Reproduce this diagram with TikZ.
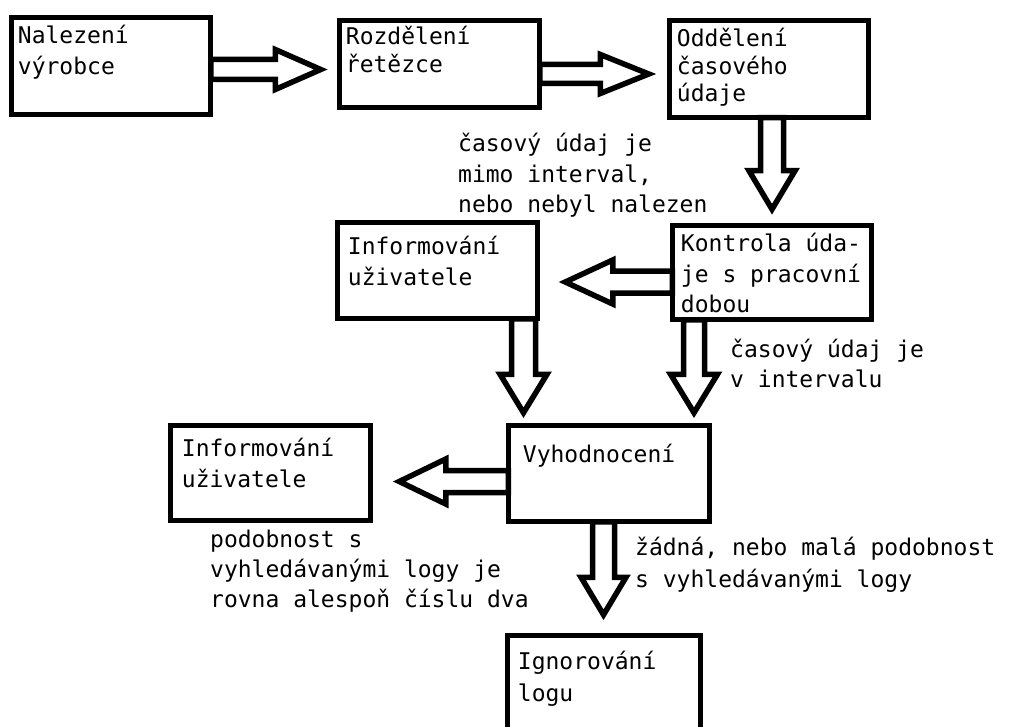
\documentclass[tikz,border=0pt]{standalone}
\usepackage{fontspec}
\setmainfont{DejaVu Sans Mono}
\usetikzlibrary{calc}
\tikzset{
  box/.style={draw, line width=5.5pt, fill=white, inner sep=0pt, rectangle},
  txt/.style={font=\fontsize{23}{30.5}\selectfont, align=left, inner sep=0pt, anchor=base west, text=black},
  barrow/.style={draw, line width=5.5pt, fill=white, line join=miter}
}
\newcommand\barR[5]{%
  \draw[barrow] let \p1=(#1), \p2=(#2) in
   (\x1,\y2-#3) -- (\x2-#5,\y2-#3) -- (\x2-#5,\y2-#4) -- (\x2,\y2)
   -- (\x2-#5,\y2+#4) -- (\x2-#5,\y2+#3) -- (\x1,\y2+#3) -- cycle;}
\newcommand\barL[5]{%
  \draw[barrow] let \p1=(#1), \p2=(#2) in
   (\x1,\y2-#3) -- (\x2+#5,\y2-#3) -- (\x2+#5,\y2-#4) -- (\x2,\y2)
   -- (\x2+#5,\y2+#4) -- (\x2+#5,\y2+#3) -- (\x1,\y2+#3) -- cycle;}
\newcommand\barD[5]{%
  \draw[barrow] let \p1=(#1), \p2=(#2) in
   (\x2-#3,\y1) -- (\x2-#3,\y2+#5) -- (\x2-#4,\y2+#5) -- (\x2,\y2)
   -- (\x2+#4,\y2+#5) -- (\x2+#3,\y2+#5) -- (\x2+#3,\y1) -- cycle;}
\begin{document}
\begin{tikzpicture}[x=1pt, y=-1pt]
\clip (0,0) rectangle (1016,727);
\fill[white] (0,0) rectangle (1016,727);
% boxes
\node[box, minimum width=199pt, minimum height=97pt] (b1) at (111,66) {};
\node[box, minimum width=200pt, minimum height=87pt] (b2) at (439.5,64) {};
\node[box, minimum width=199pt, minimum height=97pt] (b3) at (769,69) {};
\node[box, minimum width=199pt, minimum height=94pt] (b4) at (772,272.5) {};
\node[box, minimum width=200pt, minimum height=96pt] (b5) at (437.5,270.5) {};
\node[box, minimum width=201pt, minimum height=96pt] (b6) at (609,473.5) {};
\node[box, minimum width=200pt, minimum height=95pt] (b7) at (270.5,473) {};
\node[box, minimum width=193pt, minimum height=122pt] (b8) at (604,696.5) {};
% box texts (anchor at baseline of last line)
\node[txt] (t1) at ([shift={(9,59.5)}]b1.north west) {Nalezení\\výrobce};
\node[txt, font=\fontsize{23}{28}\selectfont] (t2) at ([shift={(9,55)}]b2.north west) {Rozdělení\\řetězce};
\node[txt, font=\fontsize{23}{27.5}\selectfont] (t3) at ([shift={(10,84)}]b3.north west) {Oddělení\\časového\\údaje};
\node[txt] (t4) at ([shift={(11,90)}]b4.north west) {Kontrola úda-\\je s pracovní\\dobou};
\node[txt] (t5) at ([shift={(13,65.5)}]b5.north west) {Informování\\uživatele};
\node[txt] (t6) at ([shift={(17,40)}]b6.north west) {Vyhodnocení};
\node[txt] (t7) at ([shift={(14,64.5)}]b7.north west) {Informování\\uživatele};
\node[txt, font=\fontsize{23}{32}\selectfont] (t8) at ([shift={(13,69)}]b8.north west) {Ignorování\\logu};
% block arrows
\barR{[xshift=-2.5pt]b1.east}{[shift={(-16,5.5)}]b2.west}{10pt}{20pt}{45.5pt}
\barR{[xshift=-2.5pt]b2.east}{[shift={(-18,5)}]b3.west}{9.5pt}{19.5pt}{48.5pt}
\barD{[yshift=2.5pt]b3.south}{[shift={(3,89)}]b3.south}{11.5pt}{23pt}{38.5pt}
\barL{[xshift=2.5pt]b4.west}{[shift={(25,11.5)}]b5.east}{11pt}{22pt}{47.5pt}
\barD{[yshift=2.5pt]b5.south}{[shift={(-85.5,-10)}]b6.north}{12pt}{23.5pt}{38.5pt}
\barD{[yshift=2.5pt]b4.south}{[shift={(85,-10)}]b6.north}{10.5pt}{23.5pt}{38.5pt}
\barL{[xshift=2.5pt]b6.west}{[shift={(26,8.5)}]b7.east}{11pt}{22.5pt}{46.5pt}
\barD{[yshift=2.5pt]b6.south}{[shift={(-0.5,-18)}]b8.north}{11pt}{22.5pt}{37.5pt}
% labels (anchor at baseline of last line)
\node[txt] (l1) at (458,213) {časový údaj je\\mimo interval,\\nebo nebyl nalezen};
\node[txt] (l2) at (730,387.5) {časový údaj je\\v intervalu};
\node[txt, font=\fontsize{23}{30}\selectfont] (l3) at (210,607) {podobnost s\\vyhledávanými logy je\\rovna alespoň číslu dva};
\node[txt, font=\fontsize{23}{32}\selectfont] (l4) at (635,587) {žádná, nebo malá podobnost\\s vyhledávanými logy};
\end{tikzpicture}
\end{document}
